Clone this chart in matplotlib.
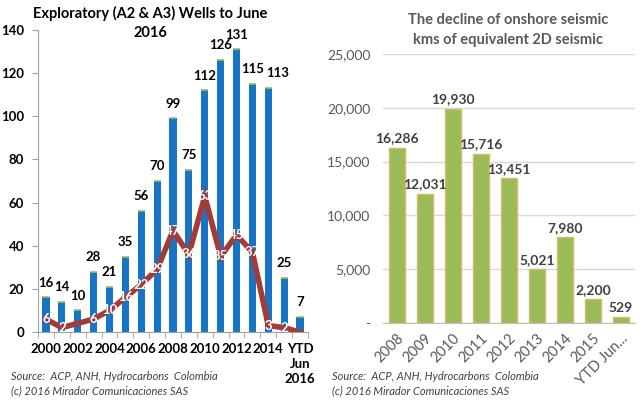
import matplotlib.pyplot as plt
import numpy as np

plt.rcParams['font.family'] = ['Lato', 'DejaVu Sans']

# left chart: exploratory wells
wells_labels = ["2000", "", "2002", "", "2004", "", "2006", "", "2008", "",
                "2010", "", "2012", "", "2014", "", "YTD\nJun\n2016"]
wells_total = [16, 14, 10, 28, 21, 35, 56, 70, 99, 75, 112, 126, 131, 115, 113, 25, 7]
wells_line = [6, 2, 4, 6, 10, 16, 22, 29, 47, 36, 63, 35, 45, 37, 3, 2, 0]
line_labels = ["6", "2", "", "6", "10", "16", "22", "29", "47", "36", "63",
               "35", "45", "37", "3", "2", ""]

# right chart: onshore seismic
seis_labels = ["2008", "2009", "2010", "2011", "2012", "2013", "2014", "2015", "YTD Jun..."]
seis_values = [16286, 12031, 19930, 15716, 13451, 5021, 7980, 2200, 529]

BLUE = "#1874C4"
RED = "#A33C36"
GREEN = "#9BBB59"
GREY = "#595959"

fig = plt.figure(figsize=(6.4, 4.09), dpi=100)

# ---- left ----
ax1 = fig.add_axes([38 / 640, 1 - 332 / 409, 270 / 640, 302 / 409])
x = np.arange(len(wells_total))
ax1.bar(x, wells_total, width=0.45, color=BLUE, edgecolor="none")
ax1.hlines(wells_total, x - 0.22, x + 0.22, color=GREEN, linewidth=1.2)
ax1.plot(x, wells_line, color=RED, linewidth=4, solid_joinstyle="miter")
nudge = {14: 0.6}  # Excel pushed the 2014 label right to clear 2013
for xi, v in zip(x, wells_total):
    ax1.text(xi + nudge.get(xi, 0), v + 5, str(v), ha="center", va="baseline",
             fontsize=9.5, fontweight="bold", color="black")
for xi, v, s in zip(x, wells_line, line_labels):
    if s:
        ax1.text(xi, v, s, ha="center", va="center", fontsize=9.5,
                 fontweight="bold", color="white")
ax1.set_xlim(-0.5, 16.5)
ax1.set_ylim(0, 140)
ax1.set_yticks(range(0, 141, 20))
ax1.set_xticks(x)
ax1.set_xticklabels(wells_labels, fontsize=9.5, fontweight="bold", linespacing=1.3)
ax1.tick_params(axis="x", length=0, pad=8)
ax1.tick_params(axis="y", length=4, color="#A0A0A0", labelsize=9.5, pad=6)
for lab in ax1.get_yticklabels():
    lab.set_fontweight("bold")
ax1.set_xticks(np.arange(-0.5, 17, 1), minor=True)
ax1.tick_params(axis="x", which="minor", length=4, color="#A0A0A0")
ax1.spines[["top", "right"]].set_visible(False)
ax1.spines["left"].set_color("#A0A0A0")
ax1.spines["bottom"].set_color("#A0A0A0")
fig.text(150 / 640, 1 - 13 / 409, "Exploratory (A2 & A3) Wells to June",
         ha="center", va="center", fontsize=10.5, fontweight="bold")
fig.text(150 / 640, 1 - 33 / 409, "2016", ha="center", va="center",
         fontsize=10.5, fontweight="bold")

# ---- right ----
ax2 = fig.add_axes([383 / 640, 1 - 323 / 409, 252 / 640, 269 / 409])
xs = np.arange(len(seis_values))
ax2.bar(xs, seis_values, width=0.6, color=GREEN, edgecolor="#D9B869", linewidth=1)
for xi, v in zip(xs, seis_values):
    ax2.text(xi, v + 500, f"{v:,}", ha="center", va="baseline", fontsize=10,
             fontweight="bold", color="#404040")
ax2.set_xlim(-0.5, 8.5)
ax2.set_ylim(0, 25000)
ax2.set_yticks(range(0, 25001, 5000))
ax2.set_yticklabels(["-", "5,000", "10,000", "15,000", "20,000", "25,000"],
                    fontsize=10, color=GREY)
ax2.yaxis.grid(True, color="#D9D9D9", linewidth=1)
ax2.set_axisbelow(True)
ax2.set_xticks(xs)
ax2.set_xticklabels(seis_labels, rotation=45, ha="right", rotation_mode="anchor",
                    fontsize=10.5, color=GREY)
ax2.tick_params(axis="both", length=0)
ax2.tick_params(axis="y", pad=9)
ax2.tick_params(axis="x", pad=6)
ax2.spines[["top", "right", "left"]].set_visible(False)
ax2.spines["bottom"].set_color("#BFBFBF")
fig.text(508 / 640, 1 - 20 / 409, "The decline of onshore seismic",
         ha="center", va="center", fontsize=10.5, fontweight="bold", color=GREY)
fig.text(508 / 640, 1 - 40 / 409, "kms of equivalent 2D seismic",
         ha="center", va="center", fontsize=10.5, fontweight="bold", color=GREY)

# sources
for x0 in (11, 332):
    fig.text(x0 / 640, 1 - 376 / 409, "Source:  ACP, ANH, Hydrocarbons  Colombia",
             ha="left", va="center", fontsize=8, style="italic", color="#404040")
    fig.text(x0 / 640, 1 - 391 / 409, "(c) 2016 Mirador Comunicaciones SAS",
             ha="left", va="center", fontsize=8, style="italic", color="#404040")

fig.savefig("out.png", dpi=100)
